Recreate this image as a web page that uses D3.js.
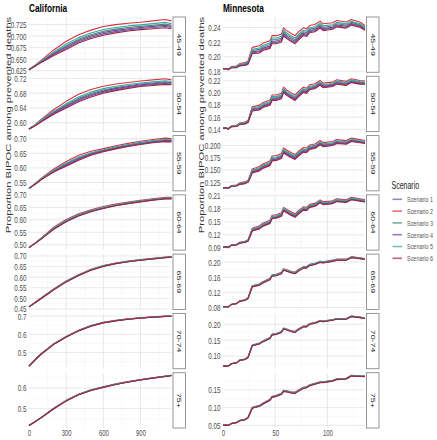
<!DOCTYPE html>
<html><head><meta charset="utf-8">
<script src="https://cdn.jsdelivr.net/npm/d3@7"></script>
<style>
body{margin:0;background:#fff;}
svg text{font-family:"Liberation Sans",Arial,sans-serif;}
</style></head><body>
<svg id="chart" width="437" height="440"></svg>
<script>
const scenarios = ["Scenario 1","Scenario 2","Scenario 3","Scenario 4","Scenario 5","Scenario 6"];
const scenarioColors = ["#5b61a6","#d8323f","#3d8e70","#7d3f9c","#3aa5a1","#a52442"];
const ageGroups = ["45-49","50-54","55-59","60-64","65-69","70-74","75+"];
const stateNames = ["California","Minnesota"];

const caDays = [0,50,100,200,300,400,500,600,700,800,900,1000,1100,1150];
const caXTickLabels = ["0","300","600","900"];
const mnDays = [0,3,5,8,13,16,21,24,26,28,35,38,45,47,51,56,58,61,65,69,72,77,80,83,88,93,96,105,109,118,123,131,136];
const mnXTickLabels = ["0","50","100"];

const caYTickLabels = [
  ["0.625","0.650","0.675","0.700","0.725"],
  ["0.60","0.64","0.68","0.72"],
  ["0.55","0.60","0.65","0.70"],
  ["0.50","0.55","0.60","0.65","0.70"],
  ["0.45","0.50","0.55","0.60","0.65","0.70"],
  ["0.5","0.6","0.7"],
  ["0.5","0.6"]
];
const mnYTickLabels = [
  ["0.18","0.20","0.22","0.24"],
  ["0.14","0.16","0.18","0.20","0.22"],
  ["0.125","0.150","0.175","0.200"],
  ["0.09","0.12","0.15","0.18","0.21"],
  ["0.08","0.12","0.16","0.20"],
  ["0.10","0.15","0.20"],
  ["0.05","0.10","0.15"]
];

// California: one array per scenario (Scenario 1 .. Scenario 6)
const ca_45_49 = [
  [0.627,0.6353,0.6438,0.6598,0.6737,0.6877,0.6977,0.7049,0.7097,0.7136,0.7164,0.7186,0.7207,0.7186],
  [0.627,0.637,0.648,0.670,0.689,0.703,0.713,0.721,0.725,0.728,0.730,0.733,0.736,0.733],
  [0.627,0.6359,0.6453,0.6634,0.6791,0.6931,0.7031,0.7106,0.7151,0.7187,0.7212,0.7237,0.7261,0.7237],
  [0.627,0.6356,0.6445,0.6616,0.6764,0.6904,0.7004,0.7077,0.7124,0.7161,0.7188,0.7211,0.7234,0.7211],
  [0.627,0.6363,0.6463,0.6658,0.6827,0.6967,0.7067,0.7144,0.7187,0.7221,0.7244,0.7271,0.7297,0.7271],
  [0.627,0.635,0.643,0.658,0.671,0.685,0.695,0.702,0.707,0.711,0.714,0.716,0.718,0.716]
];
const ca_50_54 = [
  [0.583,0.5925,0.6041,0.6250,0.6427,0.660,0.673,0.6829,0.6897,0.6954,0.7003,0.7033,0.7063,0.7050],
  [0.583,0.595,0.610,0.636,0.658,0.677,0.690,0.699,0.705,0.709,0.713,0.716,0.719,0.716],
  [0.583,0.5934,0.6062,0.6289,0.6481,0.666,0.679,0.6886,0.6951,0.7002,0.7048,0.7078,0.7108,0.7089],
  [0.583,0.5929,0.6051,0.6269,0.6454,0.663,0.676,0.6857,0.6924,0.6978,0.7025,0.7055,0.7085,0.7069],
  [0.583,0.5940,0.6076,0.6315,0.6517,0.670,0.683,0.6924,0.6987,0.7034,0.7078,0.7108,0.7138,0.7115],
  [0.583,0.592,0.603,0.623,0.640,0.657,0.670,0.680,0.687,0.693,0.698,0.701,0.704,0.703]
];
const ca_55_59 = [
  [0.530,0.5445,0.5608,0.5875,0.6084,0.6286,0.6451,0.6567,0.6667,0.6747,0.6817,0.6877,0.6918,0.6907],
  [0.530,0.547,0.565,0.596,0.622,0.643,0.657,0.666,0.676,0.684,0.691,0.697,0.702,0.700],
  [0.530,0.5454,0.5623,0.5905,0.6132,0.6337,0.6493,0.6600,0.6700,0.6780,0.6850,0.6910,0.6954,0.6940],
  [0.530,0.5449,0.5615,0.5890,0.6108,0.6311,0.6472,0.6583,0.6683,0.6763,0.6833,0.6893,0.6936,0.6923],
  [0.530,0.5460,0.5633,0.5925,0.6164,0.6371,0.6521,0.6622,0.6722,0.6802,0.6872,0.6932,0.6978,0.6962],
  [0.530,0.544,0.560,0.586,0.606,0.626,0.643,0.655,0.665,0.673,0.680,0.686,0.690,0.689]
];
const ca_60_64 = [
  [0.488,0.5053,0.5236,0.5632,0.5933,0.6163,0.6332,0.6462,0.6570,0.6659,0.6729,0.6797,0.6849,0.6849],
  [0.488,0.507,0.527,0.570,0.601,0.624,0.640,0.653,0.663,0.671,0.678,0.684,0.690,0.690],
  [0.488,0.5059,0.5248,0.5656,0.5960,0.6190,0.6356,0.6486,0.6591,0.6677,0.6747,0.6812,0.6867,0.6867],
  [0.488,0.5056,0.5242,0.5644,0.5947,0.6177,0.6344,0.6474,0.6581,0.6668,0.6738,0.6805,0.6858,0.6858],
  [0.488,0.5063,0.5256,0.5672,0.5978,0.6208,0.6372,0.6502,0.6606,0.6689,0.6759,0.6823,0.6879,0.6879],
  [0.488,0.505,0.523,0.562,0.592,0.615,0.632,0.645,0.656,0.665,0.672,0.679,0.684,0.684]
];
const ca_65_69 = [
  [0.460,0.4803,0.5005,0.5416,0.5786,0.6086,0.6336,0.6516,0.6645,0.6735,0.6805,0.6865,0.6925,0.6953],
  [0.460,0.482,0.503,0.545,0.582,0.612,0.637,0.655,0.667,0.676,0.683,0.689,0.695,0.697],
  [0.460,0.4809,0.5014,0.5428,0.5798,0.6098,0.6348,0.6528,0.6654,0.6744,0.6814,0.6874,0.6934,0.6959],
  [0.460,0.4806,0.5009,0.5422,0.5792,0.6092,0.6342,0.6522,0.6649,0.6739,0.6809,0.6869,0.6929,0.6956],
  [0.460,0.4813,0.5020,0.5436,0.5806,0.6106,0.6356,0.6536,0.6660,0.6750,0.6820,0.6880,0.6940,0.6963],
  [0.460,0.480,0.500,0.541,0.578,0.608,0.633,0.651,0.664,0.673,0.680,0.686,0.692,0.695]
];
const ca_70_74 = [
  [0.425,0.4603,0.4925,0.5455,0.5855,0.6195,0.6455,0.6635,0.6745,0.6833,0.6893,0.6943,0.6983,0.6993],
  [0.425,0.462,0.495,0.548,0.588,0.622,0.648,0.666,0.677,0.685,0.691,0.696,0.700,0.701],
  [0.425,0.4609,0.4934,0.5464,0.5864,0.6204,0.6464,0.6644,0.6754,0.6839,0.6899,0.6949,0.6989,0.6999],
  [0.425,0.4606,0.4929,0.5459,0.5859,0.6199,0.6459,0.6639,0.6749,0.6836,0.6896,0.6946,0.6986,0.6996],
  [0.425,0.4613,0.4940,0.5470,0.5870,0.6210,0.6470,0.6650,0.6760,0.6843,0.6903,0.6953,0.6993,0.7003],
  [0.425,0.460,0.492,0.545,0.585,0.619,0.645,0.663,0.674,0.683,0.689,0.694,0.698,0.699]
];
const ca_75_plus = [
  [0.418,0.4363,0.4563,0.4995,0.5375,0.5675,0.5885,0.6035,0.6175,0.6293,0.6393,0.6483,0.6563,0.6603],
  [0.418,0.438,0.458,0.502,0.540,0.570,0.591,0.606,0.620,0.631,0.641,0.650,0.658,0.662],
  [0.418,0.4369,0.4569,0.5004,0.5384,0.5684,0.5894,0.6044,0.6184,0.6299,0.6399,0.6489,0.6569,0.6609],
  [0.418,0.4366,0.4566,0.4999,0.5379,0.5679,0.5889,0.6039,0.6179,0.6296,0.6396,0.6486,0.6566,0.6606],
  [0.418,0.4373,0.4573,0.5010,0.5390,0.5690,0.5900,0.6050,0.6190,0.6303,0.6403,0.6493,0.6573,0.6613],
  [0.418,0.436,0.456,0.499,0.537,0.567,0.588,0.603,0.617,0.629,0.639,0.648,0.656,0.660]
];

// Minnesota: one array per scenario (Scenario 1 .. Scenario 6)
const mn_45_49 = [
  [0.1835,0.1840,0.1823,0.1852,0.1855,0.1879,0.1887,0.1906,0.1980,0.2054,0.2067,0.2100,0.2131,0.2195,0.2195,0.2219,0.2302,0.2264,0.2228,0.2195,0.2242,0.2307,0.2293,0.2344,0.2358,0.2408,0.2371,0.2390,0.2422,0.2404,0.2445,0.2414,0.2372],
  [0.1835,0.1840,0.1828,0.1866,0.1874,0.1907,0.1920,0.1943,0.2036,0.2129,0.2151,0.2184,0.2220,0.2289,0.2289,0.2313,0.2396,0.2358,0.2322,0.2289,0.2336,0.2396,0.2382,0.2428,0.2442,0.2488,0.2451,0.2465,0.2497,0.2475,0.2510,0.2475,0.2428],
  [0.1835,0.1840,0.1825,0.1857,0.1863,0.1890,0.1900,0.1921,0.2003,0.2085,0.2101,0.2134,0.2167,0.2234,0.2234,0.2258,0.2341,0.2303,0.2267,0.2234,0.2281,0.2343,0.2329,0.2378,0.2392,0.2441,0.2404,0.2421,0.2453,0.2433,0.2471,0.2439,0.2395],
  [0.1835,0.1840,0.1824,0.1854,0.1859,0.1884,0.1893,0.1912,0.1990,0.2067,0.2082,0.2115,0.2146,0.2212,0.2212,0.2236,0.2319,0.2281,0.2245,0.2212,0.2259,0.2322,0.2308,0.2359,0.2373,0.2422,0.2385,0.2403,0.2435,0.2417,0.2456,0.2425,0.2382],
  [0.1835,0.1840,0.1826,0.1861,0.1867,0.1897,0.1908,0.1930,0.2016,0.2103,0.2121,0.2154,0.2188,0.2256,0.2256,0.2280,0.2363,0.2325,0.2289,0.2256,0.2303,0.2364,0.2350,0.2398,0.2412,0.2460,0.2423,0.2439,0.2471,0.2450,0.2487,0.2453,0.2408],
  [0.1835,0.1840,0.1822,0.1849,0.1852,0.1874,0.1881,0.1899,0.1970,0.2041,0.2052,0.2085,0.2115,0.2179,0.2179,0.2203,0.2286,0.2248,0.2212,0.2179,0.2226,0.2291,0.2277,0.2329,0.2343,0.2394,0.2357,0.2377,0.2409,0.2392,0.2433,0.2403,0.2362]
];
const mn_50_54 = [
  [0.1417,0.1423,0.1405,0.1443,0.1449,0.1481,0.1493,0.1517,0.1614,0.1712,0.1730,0.1770,0.1809,0.1889,0.1889,0.1918,0.2018,0.1972,0.1928,0.1889,0.1945,0.2022,0.2005,0.2065,0.2082,0.2141,0.2097,0.2117,0.2156,0.2133,0.2179,0.2154,0.2150],
  [0.1417,0.1423,0.1409,0.1455,0.1464,0.1504,0.1520,0.1548,0.1660,0.1773,0.1799,0.1839,0.1882,0.1966,0.1966,0.1995,0.2095,0.2049,0.2005,0.1966,0.2022,0.2095,0.2078,0.2134,0.2151,0.2206,0.2162,0.2178,0.2217,0.2191,0.2233,0.2204,0.2196],
  [0.1417,0.1423,0.1406,0.1448,0.1455,0.1490,0.1504,0.1530,0.1633,0.1737,0.1758,0.1798,0.1839,0.1921,0.1921,0.1950,0.2050,0.2004,0.1960,0.1921,0.1977,0.2052,0.2035,0.2093,0.2110,0.2167,0.2123,0.2142,0.2181,0.2157,0.2201,0.2174,0.2169],
  [0.1417,0.1423,0.1405,0.1445,0.1451,0.1485,0.1498,0.1523,0.1622,0.1723,0.1742,0.1782,0.1822,0.1903,0.1903,0.1932,0.2032,0.1986,0.1942,0.1903,0.1959,0.2035,0.2018,0.2077,0.2094,0.2152,0.2108,0.2128,0.2167,0.2143,0.2189,0.2163,0.2158],
  [0.1417,0.1423,0.1407,0.1451,0.1459,0.1496,0.1510,0.1537,0.1644,0.1751,0.1775,0.1815,0.1856,0.1939,0.1939,0.1968,0.2068,0.2022,0.1978,0.1939,0.1995,0.2069,0.2052,0.2110,0.2127,0.2183,0.2139,0.2156,0.2195,0.2171,0.2214,0.2186,0.2180],
  [0.1417,0.1423,0.1404,0.1441,0.1446,0.1477,0.1488,0.1512,0.1606,0.1701,0.1718,0.1758,0.1796,0.1876,0.1876,0.1905,0.2005,0.1959,0.1915,0.1876,0.1932,0.2009,0.1992,0.2053,0.2070,0.2129,0.2085,0.2106,0.2145,0.2123,0.2170,0.2145,0.2142]
];
const mn_55_59 = [
  [0.1135,0.1142,0.1126,0.1169,0.1177,0.1211,0.1227,0.1254,0.1348,0.1453,0.1495,0.1546,0.1603,0.1701,0.1711,0.1752,0.1864,0.1823,0.1772,0.1731,0.1792,0.1878,0.1868,0.1933,0.1953,0.2029,0.1988,0.2013,0.2053,0.2037,0.2092,0.2066,0.2050],
  [0.1135,0.1142,0.1130,0.1182,0.1194,0.1237,0.1257,0.1288,0.1399,0.1521,0.1572,0.1623,0.1684,0.1786,0.1796,0.1837,0.1949,0.1908,0.1857,0.1816,0.1877,0.1959,0.1949,0.2010,0.2030,0.2101,0.2060,0.2081,0.2121,0.2101,0.2152,0.2121,0.2101],
  [0.1135,0.1142,0.1127,0.1174,0.1184,0.1222,0.1239,0.1268,0.1369,0.1481,0.1527,0.1578,0.1636,0.1736,0.1746,0.1787,0.1899,0.1858,0.1807,0.1766,0.1827,0.1911,0.1901,0.1965,0.1985,0.2058,0.2017,0.2041,0.2081,0.2063,0.2117,0.2088,0.2071],
  [0.1135,0.1142,0.1126,0.1171,0.1180,0.1216,0.1232,0.1260,0.1357,0.1465,0.1509,0.1560,0.1617,0.1716,0.1726,0.1767,0.1879,0.1838,0.1787,0.1746,0.1807,0.1892,0.1882,0.1947,0.1967,0.2041,0.2000,0.2025,0.2065,0.2048,0.2103,0.2075,0.2059],
  [0.1135,0.1142,0.1128,0.1177,0.1188,0.1228,0.1246,0.1276,0.1381,0.1497,0.1545,0.1596,0.1655,0.1756,0.1766,0.1807,0.1919,0.1878,0.1827,0.1786,0.1847,0.1930,0.1920,0.1983,0.2003,0.2075,0.2034,0.2057,0.2097,0.2078,0.2131,0.2101,0.2083],
  [0.1135,0.1142,0.1125,0.1167,0.1174,0.1207,0.1222,0.1248,0.1339,0.1441,0.1482,0.1533,0.1589,0.1686,0.1696,0.1737,0.1849,0.1808,0.1757,0.1716,0.1777,0.1864,0.1854,0.1920,0.1940,0.2016,0.1975,0.2001,0.2041,0.2026,0.2082,0.2056,0.2041]
];
const mn_60_64 = [
  [0.0914,0.0922,0.0905,0.0957,0.0967,0.1009,0.1028,0.1059,0.1172,0.1297,0.1347,0.1405,0.1469,0.1581,0.1593,0.1639,0.1765,0.1719,0.1662,0.1616,0.1685,0.1780,0.1768,0.1841,0.1864,0.1948,0.1902,0.1929,0.1975,0.1955,0.2015,0.1985,0.1965],
  [0.0914,0.0922,0.0908,0.0967,0.0981,0.1029,0.1052,0.1086,0.1213,0.1351,0.1408,0.1466,0.1534,0.1649,0.1661,0.1707,0.1833,0.1787,0.1730,0.1684,0.1753,0.1845,0.1833,0.1902,0.1925,0.2006,0.1960,0.1983,0.2029,0.2006,0.2063,0.2029,0.2006],
  [0.0914,0.0922,0.0906,0.0961,0.0973,0.1017,0.1038,0.1070,0.1189,0.1319,0.1372,0.1430,0.1496,0.1609,0.1621,0.1667,0.1793,0.1747,0.1690,0.1644,0.1713,0.1807,0.1795,0.1866,0.1889,0.1972,0.1926,0.1951,0.1997,0.1976,0.2035,0.2003,0.1982],
  [0.0914,0.0922,0.0905,0.0959,0.0970,0.1012,0.1032,0.1064,0.1179,0.1306,0.1358,0.1416,0.1481,0.1593,0.1605,0.1651,0.1777,0.1731,0.1674,0.1628,0.1697,0.1792,0.1780,0.1852,0.1875,0.1958,0.1912,0.1938,0.1984,0.1964,0.2024,0.1993,0.1972],
  [0.0914,0.0922,0.0907,0.0963,0.0976,0.1022,0.1044,0.1076,0.1199,0.1332,0.1386,0.1444,0.1511,0.1625,0.1637,0.1683,0.1809,0.1763,0.1706,0.1660,0.1729,0.1822,0.1810,0.1880,0.1903,0.1986,0.1940,0.1964,0.2010,0.1988,0.2046,0.2013,0.1992],
  [0.0914,0.0922,0.0904,0.0955,0.0965,0.1005,0.1024,0.1054,0.1165,0.1287,0.1336,0.1394,0.1458,0.1569,0.1581,0.1627,0.1753,0.1707,0.1650,0.1604,0.1673,0.1769,0.1757,0.1830,0.1853,0.1938,0.1892,0.1919,0.1965,0.1946,0.2007,0.1977,0.1958]
];
const mn_65_69 = [
  [0.0816,0.0823,0.0814,0.0877,0.0902,0.0965,0.0990,0.1041,0.1195,0.1347,0.1396,0.1450,0.1542,0.1633,0.1646,0.1699,0.1792,0.1765,0.1726,0.1699,0.1765,0.1847,0.1847,0.1915,0.1941,0.1996,0.1983,0.2025,0.2052,0.2053,0.2121,0.2096,0.2072],
  [0.0816,0.0823,0.0816,0.0882,0.0909,0.0975,0.1002,0.1055,0.1215,0.1374,0.1427,0.1481,0.1574,0.1667,0.1680,0.1733,0.1826,0.1799,0.1760,0.1733,0.1799,0.1879,0.1879,0.1946,0.1972,0.2025,0.2012,0.2052,0.2079,0.2079,0.2145,0.2118,0.2092],
  [0.0816,0.0823,0.0815,0.0879,0.0905,0.0969,0.0995,0.1047,0.1203,0.1358,0.1409,0.1463,0.1555,0.1647,0.1660,0.1713,0.1806,0.1779,0.1740,0.1713,0.1779,0.1860,0.1860,0.1928,0.1954,0.2008,0.1995,0.2036,0.2063,0.2064,0.2131,0.2105,0.2080],
  [0.0816,0.0823,0.0815,0.0878,0.0903,0.0967,0.0992,0.1044,0.1198,0.1352,0.1402,0.1456,0.1547,0.1639,0.1652,0.1705,0.1798,0.1771,0.1732,0.1705,0.1771,0.1852,0.1852,0.1921,0.1947,0.2001,0.1988,0.2030,0.2057,0.2058,0.2125,0.2100,0.2075],
  [0.0816,0.0823,0.0815,0.0880,0.0907,0.0971,0.0998,0.1050,0.1208,0.1364,0.1416,0.1470,0.1563,0.1655,0.1668,0.1721,0.1814,0.1787,0.1748,0.1721,0.1787,0.1868,0.1868,0.1935,0.1961,0.2015,0.2002,0.2042,0.2069,0.2070,0.2137,0.2110,0.2085],
  [0.0816,0.0823,0.0814,0.0876,0.0901,0.0963,0.0988,0.1039,0.1191,0.1342,0.1391,0.1445,0.1536,0.1627,0.1640,0.1693,0.1786,0.1759,0.1720,0.1693,0.1759,0.1841,0.1841,0.1910,0.1936,0.1991,0.1978,0.2020,0.2047,0.2049,0.2117,0.2092,0.2068]
];
const mn_70_74 = [
  [0.0684,0.0692,0.0682,0.0759,0.0789,0.0865,0.0896,0.0958,0.1142,0.1326,0.1386,0.1449,0.1557,0.1667,0.1682,0.1745,0.1856,0.1824,0.1777,0.1745,0.1824,0.1920,0.1920,0.2001,0.2032,0.2096,0.2080,0.2130,0.2161,0.2161,0.2242,0.2211,0.2182],
  [0.0684,0.0692,0.0684,0.0763,0.0794,0.0873,0.0905,0.0968,0.1157,0.1346,0.1409,0.1472,0.1582,0.1693,0.1708,0.1771,0.1882,0.1850,0.1803,0.1771,0.1850,0.1945,0.1945,0.2024,0.2055,0.2118,0.2102,0.2150,0.2181,0.2181,0.2260,0.2228,0.2197],
  [0.0684,0.0692,0.0683,0.0760,0.0791,0.0868,0.0899,0.0962,0.1148,0.1334,0.1395,0.1458,0.1567,0.1678,0.1693,0.1756,0.1867,0.1835,0.1788,0.1756,0.1835,0.1930,0.1930,0.2010,0.2041,0.2105,0.2089,0.2138,0.2169,0.2169,0.2249,0.2218,0.2188],
  [0.0684,0.0692,0.0683,0.0759,0.0790,0.0867,0.0897,0.0960,0.1144,0.1329,0.1390,0.1453,0.1562,0.1672,0.1687,0.1750,0.1861,0.1829,0.1782,0.1750,0.1829,0.1925,0.1925,0.2005,0.2036,0.2100,0.2084,0.2133,0.2164,0.2165,0.2245,0.2214,0.2184],
  [0.0684,0.0692,0.0683,0.0761,0.0792,0.0870,0.0902,0.0964,0.1152,0.1339,0.1401,0.1464,0.1573,0.1684,0.1699,0.1762,0.1873,0.1841,0.1794,0.1762,0.1841,0.1936,0.1936,0.2016,0.2047,0.2110,0.2094,0.2143,0.2174,0.2174,0.2254,0.2222,0.2192],
  [0.0684,0.0692,0.0682,0.0758,0.0788,0.0864,0.0894,0.0956,0.1139,0.1322,0.1382,0.1445,0.1553,0.1663,0.1678,0.1741,0.1852,0.1820,0.1773,0.1741,0.1820,0.1916,0.1916,0.1997,0.2028,0.2092,0.2076,0.2126,0.2157,0.2158,0.2239,0.2208,0.2179]
];
const mn_75_plus = [
  [0.0500,0.0507,0.0498,0.0552,0.0580,0.0633,0.0660,0.0716,0.0852,0.0988,0.1042,0.1098,0.1209,0.1293,0.1321,0.1378,0.1462,0.1448,0.1420,0.1406,0.1462,0.1548,0.1562,0.1621,0.1663,0.1706,0.1706,0.1751,0.1793,0.1807,0.1894,0.1881,0.1876],
  [0.0500,0.0507,0.0500,0.0556,0.0585,0.0641,0.0669,0.0726,0.0867,0.1008,0.1065,0.1121,0.1234,0.1319,0.1347,0.1404,0.1488,0.1474,0.1446,0.1432,0.1488,0.1573,0.1587,0.1644,0.1686,0.1728,0.1728,0.1771,0.1813,0.1827,0.1912,0.1898,0.1891],
  [0.0500,0.0507,0.0499,0.0553,0.0582,0.0636,0.0663,0.0720,0.0858,0.0996,0.1051,0.1107,0.1219,0.1304,0.1332,0.1389,0.1473,0.1459,0.1431,0.1417,0.1473,0.1558,0.1572,0.1630,0.1672,0.1715,0.1715,0.1759,0.1801,0.1815,0.1901,0.1888,0.1882],
  [0.0500,0.0507,0.0499,0.0552,0.0581,0.0635,0.0661,0.0718,0.0854,0.0991,0.1046,0.1102,0.1214,0.1298,0.1326,0.1383,0.1467,0.1453,0.1425,0.1411,0.1467,0.1553,0.1567,0.1625,0.1667,0.1710,0.1710,0.1754,0.1796,0.1811,0.1897,0.1884,0.1878],
  [0.0500,0.0507,0.0499,0.0554,0.0583,0.0638,0.0666,0.0722,0.0862,0.1001,0.1057,0.1113,0.1225,0.1310,0.1338,0.1395,0.1479,0.1465,0.1437,0.1423,0.1479,0.1564,0.1578,0.1636,0.1678,0.1720,0.1720,0.1764,0.1806,0.1820,0.1906,0.1892,0.1886],
  [0.0500,0.0507,0.0498,0.0551,0.0579,0.0632,0.0658,0.0714,0.0849,0.0984,0.1038,0.1094,0.1205,0.1289,0.1317,0.1374,0.1458,0.1444,0.1416,0.1402,0.1458,0.1544,0.1558,0.1617,0.1659,0.1702,0.1702,0.1747,0.1789,0.1804,0.1891,0.1878,0.1873]
];

// ---------------- drawing ----------------
const SQ = 0.7; // horizontal text squeeze seen in the reference
const svg = d3.select("#chart");
const rowTop = 17, rowBottom = 428, rowGap = 4, nRows = ageGroups.length;
const rowH = (rowBottom - rowTop - rowGap * (nRows - 1)) / nRows;
const stripW = 12.5;
const drawOrder = [0, 1, 2, 3, 4, 5];

function sqText(parent, x, y, str, size, opts = {}) {
  const rot = opts.rotate ? ` rotate(${opts.rotate})` : "";
  const t = parent.append("text")
    .attr("transform", `translate(${x},${y}) scale(${SQ},1)${rot}`)
    .style("font-size", size + "px")
    .attr("fill", opts.fill || "#4d4d4d")
    .attr("text-anchor", opts.anchor || "start")
    .text(str);
  if (opts.weight) t.style("font-weight", opts.weight);
  if (opts.baseline) t.attr("dominant-baseline", opts.baseline);
  return t;
}

const states = [
  {name: stateNames[0], left: 29, right: 171.5, xs: caDays, xTickLabels: caXTickLabels, yTickLabels: caYTickLabels,
   data: [ca_45_49, ca_50_54, ca_55_59, ca_60_64, ca_65_69, ca_70_74, ca_75_plus], yTitleX: 8},
  {name: stateNames[1], left: 223, right: 365, xs: mnDays, xTickLabels: mnXTickLabels, yTickLabels: mnYTickLabels,
   data: [mn_45_49, mn_50_54, mn_55_59, mn_60_64, mn_65_69, mn_70_74, mn_75_plus], yTitleX: 201}
];

states.forEach(st => {
  const x = d3.scaleLinear().domain(d3.extent(st.xs)).range([st.left, st.right]);
  const xt = st.xTickLabels.map(Number);
  const xStep = xt[1] - xt[0];
  const xMinor = d3.range(xt[0] + xStep / 2, x.domain()[1], xStep);

  sqText(svg, st.left, 12, st.name, 11.8, {fill: "#000", weight: "bold"});
  sqText(svg, st.yTitleX, 125, "Proportion BIPOC among prevented deaths", 11.2,
         {fill: "#333", anchor: "middle", baseline: "central", rotate: -90});

  st.data.forEach((series, r) => {
    const top = rowTop + r * (rowH + rowGap);
    const bottom = top + rowH;
    const [lo, hi] = d3.extent(series.flat());
    const pad = (hi - lo) * 0.05;
    const y = d3.scaleLinear().domain([lo - pad, hi + pad]).range([bottom, top]);
    const yt = st.yTickLabels[r].map(Number);
    const yStep = yt[1] - yt[0];
    const yMinor = d3.range(yt[0] - yStep / 2, y.domain()[1], yStep).filter(v => v > y.domain()[0]);

    const g = svg.append("g");
    g.append("g").selectAll("line").data(yMinor).join("line")
      .attr("x1", st.left).attr("x2", st.right).attr("y1", d => y(d)).attr("y2", d => y(d))
      .attr("stroke", "#f2f2f2").attr("stroke-width", 0.5);
    g.append("g").selectAll("line").data(xMinor).join("line")
      .attr("x1", d => x(d)).attr("x2", d => x(d)).attr("y1", top).attr("y2", bottom)
      .attr("stroke", "#f2f2f2").attr("stroke-width", 0.5);
    g.append("g").selectAll("line").data(yt).join("line")
      .attr("x1", st.left).attr("x2", st.right).attr("y1", d => y(d)).attr("y2", d => y(d))
      .attr("stroke", "#e3e3e3").attr("stroke-width", 0.8);
    g.append("g").selectAll("line").data(xt.filter(v => v > x.domain()[0])).join("line")
      .attr("x1", d => x(d)).attr("x2", d => x(d)).attr("y1", top).attr("y2", bottom)
      .attr("stroke", "#e3e3e3").attr("stroke-width", 0.8);

    // y tick labels through a d3 axis
    const yAxis = d3.axisLeft(y).tickValues(yt).tickFormat((d, i) => st.yTickLabels[r][i]).tickSize(0).tickPadding(0);
    const ya = g.append("g").attr("transform", `translate(${st.left - 2.5},0)`).call(yAxis);
    ya.select(".domain").remove();
    ya.selectAll("text").attr("x", 0).attr("transform", `scale(${SQ},1)`)
      .style("font-size", "9px").attr("fill", "#4d4d4d").attr("font-family", null);

    const line = d3.line().x((d, i) => x(st.xs[i])).y(d => y(d));
    drawOrder.forEach(k => {
      g.append("path").datum(series[k]).attr("d", line)
        .attr("fill", "none").attr("stroke", scenarioColors[k])
        .attr("stroke-width", 1.1).attr("stroke-linejoin", "round");
    });

    g.append("rect").attr("x", st.right + 1.5).attr("y", top).attr("width", stripW).attr("height", rowH)
      .attr("fill", "#fff").attr("stroke", "#8c8c8c").attr("stroke-width", 0.9);
    sqText(g, st.right + 1.5 + stripW / 2, top + rowH / 2, ageGroups[r], 8.8,
           {fill: "#1a1a1a", anchor: "middle", baseline: "central", rotate: 90});

    if (r === nRows - 1) {
      const xAxis = d3.axisBottom(x).tickValues(xt).tickFormat((d, i) => st.xTickLabels[i]).tickSize(0).tickPadding(2);
      const xa = g.append("g").attr("transform", `translate(0,${bottom})`).call(xAxis);
      xa.select(".domain").remove();
      xa.selectAll("text").attr("transform", `scale(${SQ},1)`)
        .style("font-size", "8.5px").attr("fill", "#4d4d4d").attr("font-family", null);
    }
  });
});

// legend
const lg = svg.append("g");
sqText(lg, 391.5, 188.5, "Scenario", 10, {fill: "#222"});
scenarios.forEach((s, i) => {
  const yy = 199.3 + i * 11.8;
  lg.append("line").attr("x1", 392.5).attr("x2", 402).attr("y1", yy).attr("y2", yy)
    .attr("stroke", scenarioColors[i]).attr("stroke-width", 1.6).attr("opacity", 0.7);
  sqText(lg, 407, yy, s, 7.8, {fill: "#555", baseline: "central"});
});
</script>
</body></html>
